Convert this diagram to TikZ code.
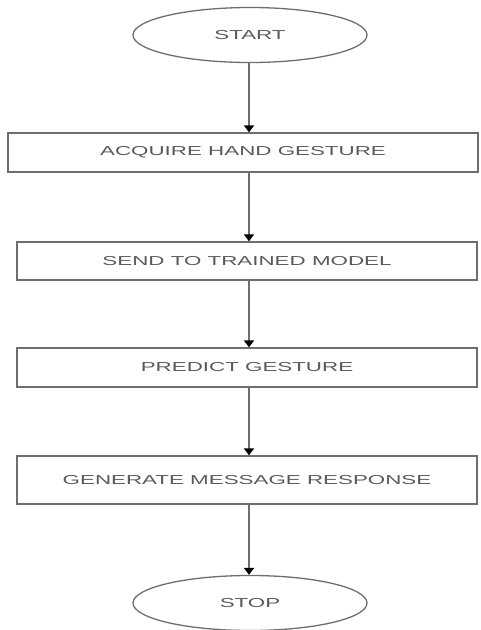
\documentclass[tikz,border=0pt]{standalone}
\usepackage{fontspec}
\setmainfont{Liberation Sans}
\usepackage{tikz}
\usetikzlibrary{shapes.geometric, positioning, calc, arrows.meta}

\definecolor{linegray}{HTML}{6E6E6E}
\definecolor{textgray}{HTML}{5A5A5A}

% wide, flat letters as in the drawing
\newcommand{\widetxt}[1]{\scalebox{1.72}[1]{#1}}

\tikzset{
    terminal/.style={ellipse, draw=linegray, line width=1.3pt, inner sep=0pt,
        minimum width=234pt, minimum height=55pt, text=textgray,
        font=\fontsize{13}{15}\selectfont},
    process/.style={rectangle, draw=linegray, line width=1.3pt, inner sep=0pt,
        minimum width=460pt, minimum height=38pt, text=textgray,
        font=\fontsize{13}{15}\selectfont},
    flow/.style={draw=linegray, line width=1.8pt,
        -{Triangle[width=10pt,length=7pt,color=black]}}
}

\begin{document}
\begin{tikzpicture}[x=1pt, y=-1pt]

        \useasboundingbox (0,0) rectangle (480,630);

        % ==========================================
        % Terminals
        % ==========================================
        \node[terminal] (start) at (250,35) {\widetxt{START}};
        \node[terminal] (stop) at (250,603) {\widetxt{STOP}};

        % ==========================================
        % Process Steps
        % ==========================================
        \node[process, minimum width=470pt, minimum height=39pt] (acquire) at (243,152.5) {\widetxt{ACQUIRE HAND GESTURE}};
        \node[process] (send) at (247,261) {\widetxt{SEND TO TRAINED MODEL}};
        \node[process, minimum height=39pt] (predict) at (247,367.5) {\widetxt{PREDICT GESTURE}};
        \node[process, minimum height=48pt] (generate) at (247,480) {\widetxt{GENERATE MESSAGE RESPONSE}};

        % ==========================================
        % Flow Arrows
        % ==========================================
        \coordinate (spine) at (249,0);
        \draw[flow] (spine |- start.south) -- (spine |- acquire.north);
        \draw[flow] (spine |- acquire.south) -- (spine |- send.north);
        \draw[flow] (spine |- send.south) -- (spine |- predict.north);
        \draw[flow] (spine |- predict.south) -- (spine |- generate.north);
        \draw[flow] (spine |- generate.south) -- (spine |- stop.north);

    \end{tikzpicture}
\end{document}
